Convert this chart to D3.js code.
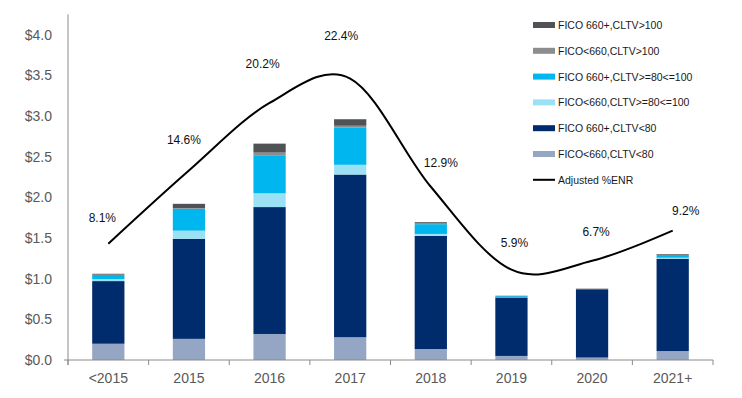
<!DOCTYPE html>
<html>
<head>
<meta charset="utf-8">
<script src="https://cdn.jsdelivr.net/npm/d3@7"></script>
<style>
  html, body { margin: 0; padding: 0; background: #fff; }
  svg { display: block; font-family: "Liberation Sans", Arial, sans-serif; }
</style>
</head>
<body>
<svg id="chart" width="742" height="398"></svg>
<script>
// ---- data ----
const categories = ["<2015", "2015", "2016", "2017", "2018", "2019", "2020", "2021+"];
const seriesNames = [
  "FICO<660,CLTV<80",
  "FICO 660+,CLTV<80",
  "FICO<660,CLTV>=80<=100",
  "FICO 660+,CLTV>=80<=100",
  "FICO<660,CLTV>100",
  "FICO 660+,CLTV>100"
];
const ficoLow_cltvLow   = [0.20, 0.26, 0.32, 0.28, 0.135, 0.05, 0.03, 0.11];
const ficoHigh_cltvLow  = [0.77, 1.23, 1.56, 2.00, 1.39, 0.72, 0.84, 1.135];
const ficoLow_cltvMid   = [0.025, 0.10, 0.17, 0.12, 0.025, 0.005, 0.0, 0.012];
const ficoHigh_cltvMid  = [0.05, 0.27, 0.46, 0.46, 0.12, 0.01, 0.003, 0.033];
const ficoLow_cltvHigh  = [0.005, 0.005, 0.04, 0.02, 0.015, 0.0, 0.0, 0.0];
const ficoHigh_cltvHigh = [0.01, 0.055, 0.11, 0.08, 0.01, 0.005, 0.004, 0.01];
const adjustedENR       = [1.43, 2.33, 3.16, 3.46, 2.13, 1.11, 1.22, 1.59];
const enrLabels         = ["8.1%", "14.6%", "20.2%", "22.4%", "12.9%", "5.9%", "6.7%", "9.2%"];
const yTicks            = [0, 0.5, 1.0, 1.5, 2.0, 2.5, 3.0, 3.5, 4.0];

// ---- layout / style (kept apart from data) ----
const colors = ["#95A6C4", "#002B6D", "#9CE0F6", "#00B6EE", "#8C8D8F", "#505256"];
const labelNudges = [[-6, -26], [-5, -30], [-7, -39], [-9, -43], [10, -24], [3, -27], [4, -29], [13, -20]];
const legendOrder = [5, 4, 3, 2, 1, 0];

const svg = d3.select("#chart");
const x = d3.scaleBand().domain(categories).range([68, 713]).paddingInner(0.6).paddingOuter(0.3);
const y = d3.scaleLinear().domain([0, 4.25]).range([360, 14.3]);

const seriesArrays = [ficoLow_cltvLow, ficoHigh_cltvLow, ficoLow_cltvMid, ficoHigh_cltvMid, ficoLow_cltvHigh, ficoHigh_cltvHigh];
const table = categories.map((c, i) => {
  const row = { cat: c };
  seriesNames.forEach((s, k) => row[s] = seriesArrays[k][i]);
  return row;
});
const stacked = d3.stack().keys(seriesNames)(table);

// bars
svg.append("g").selectAll("g").data(stacked).join("g")
  .attr("fill", (d, k) => colors[k])
  .selectAll("rect").data(d => d).join("rect")
  .attr("x", d => x(d.data.cat))
  .attr("width", x.bandwidth())
  .attr("y", d => y(d[1]))
  .attr("height", d => Math.max(0, y(d[0]) - y(d[1])));

// y axis
const yAxis = d3.axisLeft(y).tickValues(yTicks).tickSize(0).tickPadding(16)
  .tickFormat(d => "$" + d3.format(".1f")(d));
const gy = svg.append("g").attr("transform", "translate(68,0)").call(yAxis);
gy.select(".domain").attr("stroke", "#8a8a8a").attr("d", `M0,${y(4.25)}V${y(0) + 5}`);
gy.selectAll("text").attr("fill", "#595959").style("font-size", "14px")
  .style("font-family", "'Liberation Sans', Arial, sans-serif");

// x axis
const step = x.step();
const boundaries = d3.range(categories.length + 1).map(i => 68 + i * step);
const gx = svg.append("g").attr("transform", `translate(0,${y(0)})`);
gx.append("line").attr("x1", 64).attr("x2", 713).attr("y1", 0).attr("y2", 0).attr("stroke", "#8a8a8a");
gx.selectAll("line.tick").data(boundaries).join("line").attr("class", "tick")
  .attr("x1", d => d).attr("x2", d => d).attr("y1", 0).attr("y2", 5).attr("stroke", "#8a8a8a");
gx.selectAll("text").data(categories).join("text")
  .attr("x", d => x(d) + x.bandwidth() / 2).attr("y", 23)
  .attr("text-anchor", "middle").attr("fill", "#595959").style("font-size", "14px")
  .text(d => d);

// line
const cx = i => x(categories[i]) + x.bandwidth() / 2;
const line = d3.line().x((d, i) => cx(i)).y(d => y(d)).curve(d3.curveCardinal.tension(0));
svg.append("path").datum(adjustedENR).attr("d", line)
  .attr("fill", "none").attr("stroke", "#000").attr("stroke-width", 2);

// line labels
svg.append("g").selectAll("text").data(enrLabels).join("text")
  .attr("x", (d, i) => cx(i) + labelNudges[i][0])
  .attr("y", (d, i) => y(adjustedENR[i]) + labelNudges[i][1] + 4)
  .attr("text-anchor", "middle").attr("fill", "#111").style("font-size", "12px")
  .text(d => d);

// legend
const legendItems = legendOrder.map(k => ({ name: seriesNames[k], color: colors[k], line: false }))
  .concat([{ name: "Adjusted %ENR", color: "#000", line: true }]);
const lg = svg.append("g").attr("transform", "translate(533,25)");
const li = lg.selectAll("g").data(legendItems).join("g")
  .attr("transform", (d, i) => `translate(0,${i * 25.8})`);
li.append("rect").attr("x", 0).attr("width", 22).attr("y", d => d.line ? -1 : -3)
  .attr("height", d => d.line ? 2 : 6).attr("fill", d => d.color);
li.append("text").attr("x", 25).attr("y", 4).attr("fill", "#1a1a1a")
  .style("font-size", "10.5px").text(d => d.name);
</script>
</body>
</html>
